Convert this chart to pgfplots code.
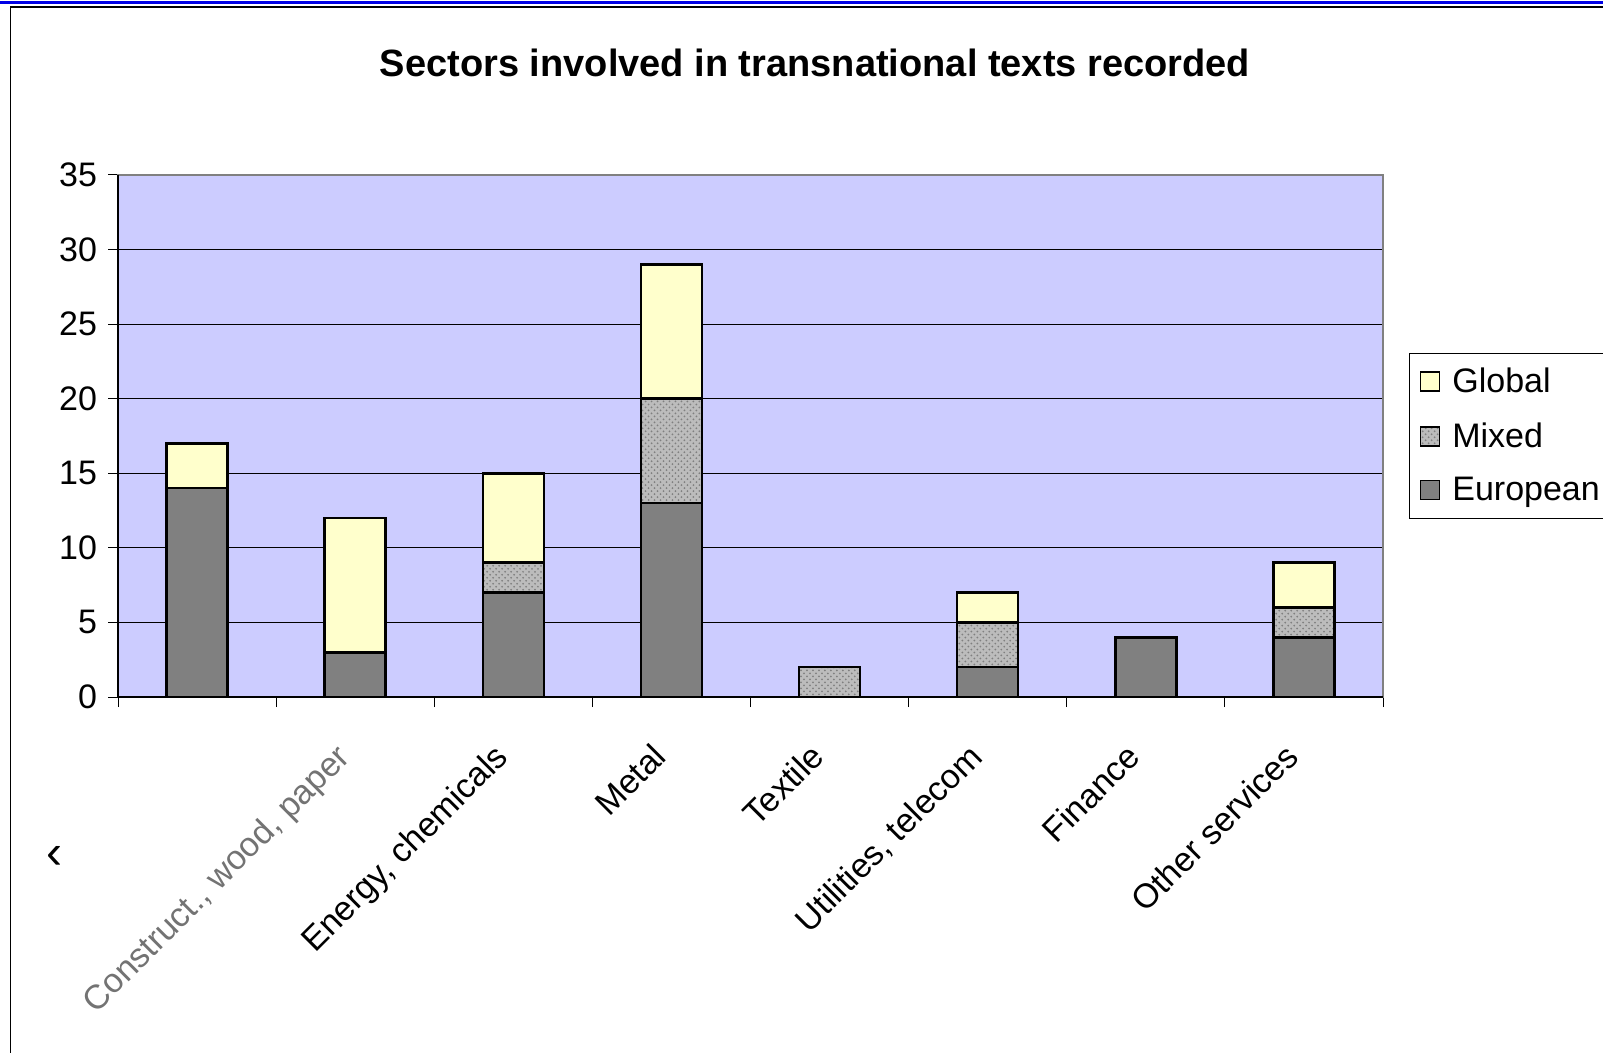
\documentclass[border=0pt]{standalone}
\usepackage{fontspec}
\setmainfont{Liberation Sans}
\usepackage{pgfplots}
\pgfplotsset{compat=1.18}
\usetikzlibrary{patterns}

\definecolor{plotbg}{RGB}{204,204,255}
\definecolor{euro}{RGB}{128,128,128}
\definecolor{mixed}{RGB}{188,188,188}
\definecolor{global}{RGB}{255,255,204}
\definecolor{frameblue}{RGB}{0,0,230}

% European / Mixed / Global per sector (sector 1..8)
\pgfplotstableread{
x eu mix glob
1 14 0 3
2 3 0 9
3 7 2 6
4 13 7 9
5 0 2 0
6 2 3 2
7 4 0 0
8 4 2 3
}\sectors

\begin{document}
\begin{tikzpicture}
% frame of the chart area (1px = 0.5bp)
\draw[frameblue, line width=1.5bp] (0bp,525.2bp) -- (801.5bp,525.2bp);
\draw[black, line width=0.6bp] (5.35bp,-10bp) -- (5.35bp,523bp) -- (820bp,523bp);

\node[font=\fontsize{19bp}{22bp}\selectfont\bfseries] at (407.5bp,495bp)
  {Sectors involved in transnational texts recorded};

\begin{axis}[
  name=ax,
  at={(59bp,178bp)}, anchor=south west,
  scale only axis, width=632.5bp, height=261bp,
  ybar stacked, bar width=30.5bp,
  xmin=0.5, xmax=8.5, ymin=0, ymax=35,
  axis background/.style={fill=plotbg},
  axis line style={draw=gray, line width=0.9bp},
  ymajorgrids, grid style={black, line width=0.5bp},
  tick align=outside, tick pos=left,
  ytick={0,5,...,35},
  xtick={0.5,1.5,...,8.5}, xticklabels={},
  major tick length=5bp,
  tick style={black, line width=0.5bp},
  extra x ticks={1,2,3,4,5,6,7,8},
  extra x tick labels={{}, {\color{black!55}Construct., wood, paper}, {Energy, chemicals}, Metal, Textile, {Utilities, telecom}, Finance, {Other services}},
  extra x tick style={major tick length=0pt, grid=none,
    xticklabel style={xshift=-10.5bp, yshift=-22bp, rotate=45, anchor=north east, inner sep=0pt}},
  ticklabel style={font=\fontsize{17bp}{20bp}\selectfont},
  /pgf/number format/assume math mode=true,
  yticklabel style={xshift=-2bp},
  every axis plot/.append style={draw=black, line width=1.3bp},
  legend image code/.code={\draw[#1, line width=0.9bp] (0bp,-4.5bp) rectangle (9.5bp,5bp);},
  reverse legend,
  legend style={at={(1.0206,0.5)}, anchor=west, draw=black, line width=0.5bp,
    font=\fontsize{17bp}{20bp}\selectfont, fill=white,
    inner xsep=5bp, inner ysep=5.5bp, row sep=9.5bp,
    /tikz/every odd column/.append style={column sep=4bp}},
  legend cell align=left,
]
\addplot[fill=euro] table[x=x, y=eu] {\sectors};
\addlegendentry{European}
\addplot[fill=mixed, postaction={pattern=crosshatch dots, pattern color=black!50}] table[x=x, y=mix] {\sectors};
\addlegendentry{Mixed}
\addplot[fill=global] table[x=x, y=glob] {\sectors};
\addlegendentry{Global}
\end{axis}
\draw[black, line width=1bp] (ax.north west) -- (ax.south west) -- (ax.south east);

% clipped remnant of the first sector label
\node[font=\fontsize{24bp}{26bp}\selectfont] at (27bp,98bp) {‹};

\pgfresetboundingbox
\useasboundingbox (0bp,0bp) rectangle (801.5bp,526.5bp);
\end{tikzpicture}
\end{document}
